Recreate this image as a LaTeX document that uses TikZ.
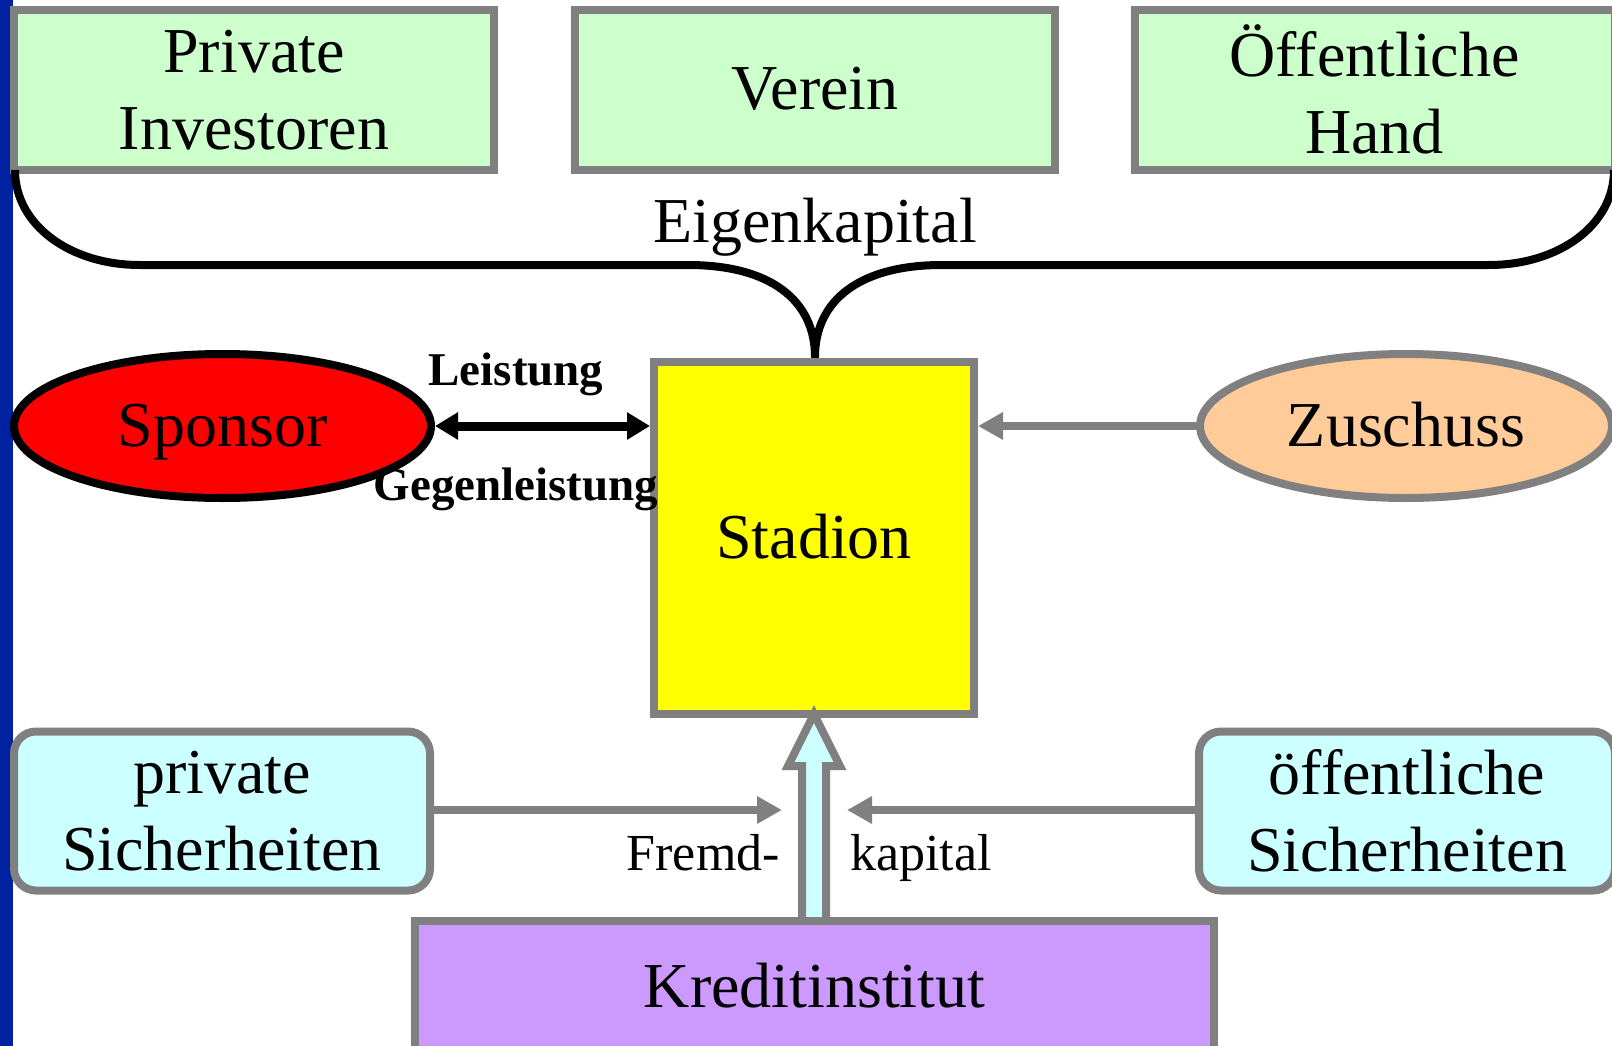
\documentclass[tikz,border=0pt]{standalone}
\usepackage{fontspec}
\setmainfont{Liberation Serif}
\usetikzlibrary{shapes.geometric,arrows.meta,calc}
\definecolor{bgray}{HTML}{808080}
\definecolor{lgreen}{HTML}{CCFFCC}
\definecolor{lcyan}{HTML}{CCFFFF}
\definecolor{lorange}{HTML}{FFCC99}
\definecolor{lpurple}{HTML}{CC99FF}
\definecolor{barblue}{HTML}{0022A0}
\definecolor{pureyellow}{HTML}{FFFF00}
\definecolor{purered}{HTML}{FF0000}
\begin{document}
\begin{tikzpicture}[x=1pt,y=-1pt,
  bigtext/.style={font=\fontsize{64}{77}\selectfont},
  oneline/.style={text height=40pt,text depth=0pt},
  topbox/.style={draw=bgray,fill=lgreen,line width=8pt,minimum width=480pt,minimum height=160pt,inner sep=0pt,align=center,bigtext},
  sichbox/.style={draw=bgray,fill=lcyan,line width=8pt,rounded corners=22pt,minimum width=416pt,minimum height=159pt,inner sep=0pt,align=center,bigtext},
  ellnode/.style={ellipse,line width=8pt,inner sep=0pt,bigtext,oneline},
  grayarrow/.style={draw=bgray,line width=8pt,-{Triangle[length=25pt,width=26pt]}},
  lbl/.style={font=\fontsize{47}{56}\selectfont\bfseries,inner sep=0pt},
  midlbl/.style={font=\fontsize{52}{62}\selectfont,inner sep=0pt}]
\clip (0,0) rectangle (1612,1046);
\fill[white] (0,0) rectangle (1612,1046);
\fill[barblue] (0,0) rectangle (13,1046);

% top boxes
\node[topbox] (priv) at (254,89.75) {Private\\Investoren};
\node[topbox,oneline] (verein) at (815,89.75) {Verein};
\node[topbox] (oeff) at (1374.5,89.75) {Öffentliche\\Hand};

% brace
\draw[line width=8pt,line join=round] (15,170) .. controls (15,225) and (70,265) .. (140,265)
  -- (688,265) .. controls (770,265) and (815,300) .. (815,357)
  .. controls (815,300) and (860,265) .. (942,265)
  -- (1489,265) .. controls (1559,265) and (1614,225) .. (1614,170);
\node[bigtext,anchor=base,inner sep=0pt] (eigen) at (815,242) {Eigenkapital};

% stadion
\node[draw=bgray,fill=pureyellow,line width=8pt,minimum width=320pt,minimum height=352pt,inner sep=0pt,bigtext,oneline] (stadion) at (814,538) {Stadion};

% sponsor and zuschuss
\node[ellnode,draw=black,fill=purered,minimum width=417pt,minimum height=144pt] (sponsor) at (222.5,426) {Sponsor};
\node[ellnode,draw=bgray,fill=lorange,minimum width=412pt,minimum height=144pt] (zuschuss) at (1406,426) {Zuschuss};

\draw[line width=9pt,{Triangle[length=23pt,width=26pt]}-{Triangle[length=23pt,width=26pt]}] (sponsor.east) -- (stadion.west |- sponsor.east);
\draw[grayarrow] (zuschuss.west) -- (stadion.east |- zuschuss.west);

\node[lbl,anchor=base] (leist) at (516,385) {Leistung};
\node[lbl,anchor=base] (gegen) at (516,500) {Gegenleistung};

% block arrow Fremdkapital
\draw[draw=bgray,fill=lcyan,line width=8pt,line join=miter]
  (802,925) -- (802,766) -- (788,766) -- (814,714) -- (840,766) -- (826,766) -- (826,925);

% Sicherheiten
\node[sichbox] (psich) at (222,811) {private\\Sicherheiten};
\node[sichbox] (osich) at (1407,811) {öffentliche\\Sicherheiten};
\coordinate (fl) at (782,810);
\coordinate (fr) at (847,810);
\draw[grayarrow] (psich.east |- fl) -- (fl);
\draw[grayarrow] (osich.west |- fr) -- (fr);
\node[midlbl,anchor=base east] (fremd) at (780,870) {Fremd-};
\node[midlbl,anchor=base west] (kap) at (850,870) {kapital};

% Kreditinstitut
\node[draw=bgray,fill=lpurple,line width=8pt,minimum width=799pt,minimum height=132pt,inner sep=0pt,bigtext,oneline] (kredit) at (814.5,987) {Kreditinstitut};
\end{tikzpicture}
\end{document}
